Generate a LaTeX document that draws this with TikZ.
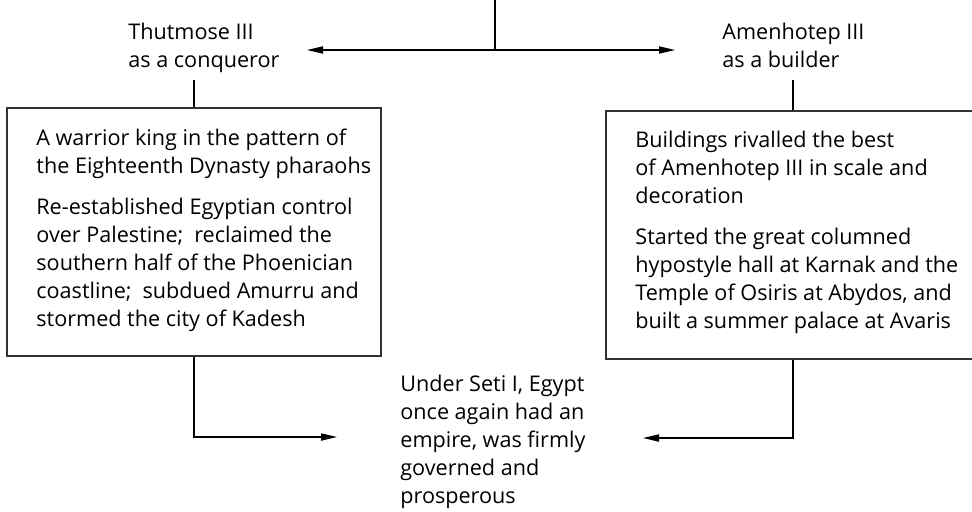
\documentclass[tikz,border=0pt]{standalone}
\usepackage{fontspec}
\setmainfont{Open Sans}
\usetikzlibrary{arrows.meta,positioning}
\begin{document}
\begin{tikzpicture}[x=0.5pt,y=-0.5pt,lbl/.style={align=left,inner sep=0pt,anchor=base west,font=\fontsize{10.8pt}{14pt}\selectfont},panel/.style={draw=black!80,line width=0.75pt,minimum width=187pt,minimum height=124pt,inner sep=0pt},link/.style={line width=0.65pt},arr/.style={link,-{Triangle[length=8pt,width=3.6pt]}}]
\useasboundingbox (0,0) rectangle (972,511);
% titles and panels (anchored at the baseline of their last line)
\node[lbl] (conqttl) at (128,67) {Thutmose III\\as a conqueror};
\node[lbl] (buildttl) at (722,67) {Amenhotep III\\as a builder};
\node[panel] (conq) at (194,232) {};
\node[panel] (build) at (793,235) {};
\node[lbl] (conqtxt) at (36,326) {A warrior king in the pattern of\\the Eighteenth Dynasty pharaohs\\[6.5pt]Re-established Egyptian control\\over Palestine;\hspace{0.5em}reclaimed the\\southern half of the Phoenician\\coastline;\hspace{0.5em}subdued Amurru and\\stormed the city of Kadesh};
\node[lbl] (buildtxt) at (635,328) {Buildings rivalled the best\\of Amenhotep III in scale and\\decoration\\[6.5pt]Started the great columned\\hypostyle hall at Karnak and the\\Temple of Osiris at Abydos, and\\built a summer palace at Avaris};
\node[lbl] (seti) at (400,503) {Under Seti I, Egypt\\once again had an\\empire, was firmly\\governed and\\prosperous};
\coordinate (top) at (495,-4);
\coordinate (fork) at (495,50);
\coordinate (toconq) at (307,50);
\coordinate (tobuild) at (675,50);
\coordinate (inl) at (337,437);
\coordinate (inr) at (643,438);
\draw[link] (top) -- (fork);
\draw[arr] (fork) -- (toconq);\draw[arr] (fork) -- (tobuild);
\draw[link] ([yshift=-6.5pt]conqttl.base -| conq.north) -- (conq.north);
\draw[link] ([yshift=-6.5pt]buildttl.base -| build.north) -- (build.north);
\draw[arr] (conq.south) |- (inl);\draw[arr] (build.south) |- (inr);
\end{tikzpicture}
\end{document}
